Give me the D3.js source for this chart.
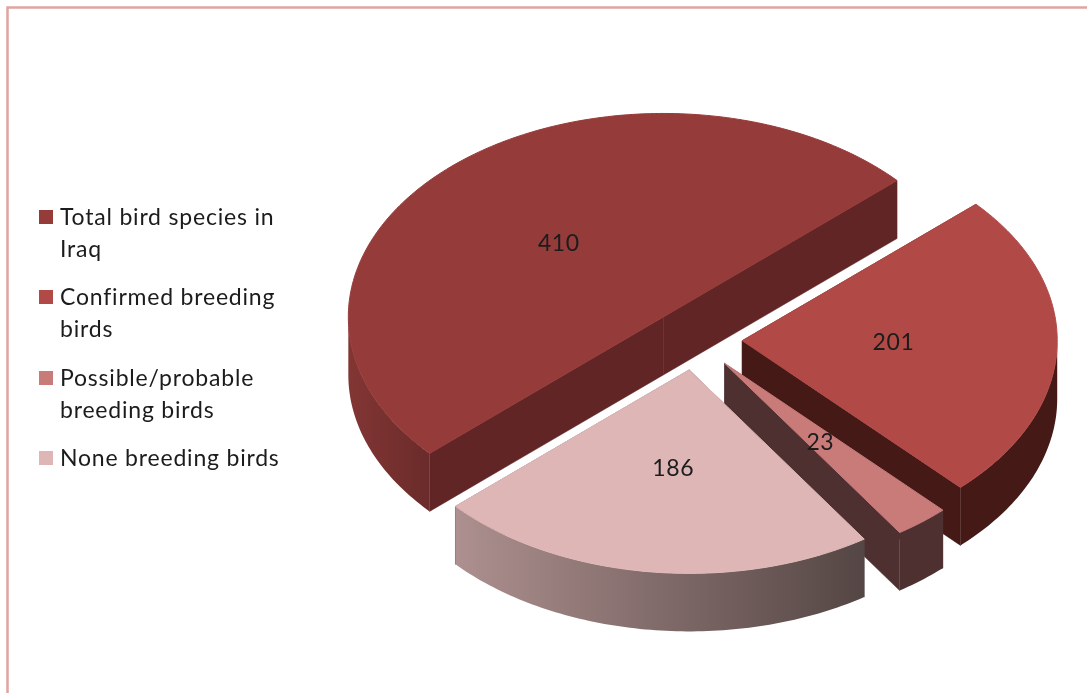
<!DOCTYPE html>
<html>
<head>
<meta charset="utf-8">
<script src="https://cdn.jsdelivr.net/npm/d3@7"></script>
<style>
  html, body { margin: 0; padding: 0; background: #fff; overflow: hidden; }
  svg { display: block; filter: blur(0.4px); }
  text { font-family: Lato, "Open Sans", sans-serif; fill: #1c1c1c; }
</style>
</head>
<body>
<div id="chart-area"></div>
<script>
// Data
var categories = ['Total bird species in Iraq', 'Confirmed breeding birds', 'Possible/probable breeding birds', 'None breeding birds'];
var values = [410, 201, 23, 186];
var legendLines = [['Total bird species in', 'Iraq'], ['Confirmed breeding', 'birds'], ['Possible/probable', 'breeding birds'], ['None breeding birds']];

// Styles
var topColors = ['#953b3a', '#b14946', '#c97b7a', '#dfb6b6'];
var edgeColors = ['#602524', '#451a16', '#4f3031', '#54464a'];
var wallFrom = ['#823634', '#451a16', '#4f3031', '#ad908f'];
var wallTo = ['#6a2b2a', '#451a16', '#4f3031', '#544644'];

var width = 1087;
var height = 693;

// Pie geometry, the tilted circle is squashed into an ellipse
var rx = 315;
var ry = 203.5;
var depth = 58;
var explode = 0.15;
var center = { x: 695, y: 339.6 };
var startAngle = 227.9 * Math.PI / 180;
var labelRadius = 0.49;
var labelNudge = [[-1, 0], [-3, -2], [-1, 1], [3, -1]];

var svg = d3.select('#chart-area')
  .append('svg')
  .attr('width', width)
  .attr('height', height);

var defs = svg.append('defs');

// Unit circle to pixels
var x = d3.scaleLinear().domain([-1, 1]).range([center.x - rx, center.x + rx]);
var y = d3.scaleLinear().domain([-1, 1]).range([center.y - ry, center.y + ry]);

var pie = d3.pie()
  .sort(null)
  .startAngle(startAngle)
  .endAngle(startAngle + 2 * Math.PI);

var slices = pie(values);

// Frame
svg.append('path')
  .attr('d', 'M7.5,' + (height + 5) + 'V7.5H' + (width + 5))
  .attr('fill', 'none')
  .attr('stroke', '#e0a4a1')
  .attr('stroke-width', 2.5);

function point(angle, r, offset, drop) {
  return [
    x(Math.sin(angle) * r + Math.sin(offset) * explode),
    y(-Math.cos(angle) * r - Math.cos(offset) * explode) + drop
  ];
}

function arcPoints(a0, a1, offset, drop) {
  var n = Math.max(2, Math.ceil(Math.abs(a1 - a0) * 60));
  return d3.range(n + 1).map(function(i) {
    return point(a0 + (a1 - a0) * i / n, 1, offset, drop);
  });
}

var line = d3.line().curve(d3.curveLinearClosed);

// Back to front
var g = svg.append('g');

slices.forEach(function(d, i) {
  var mid = (d.startAngle + d.endAngle) / 2;
  var slice = g.append('g').attr('class', 'slice');

  // Cut faces, thin stroke closes the seam where two faces meet
  [d.startAngle, d.endAngle].forEach(function(a) {
    slice.append('path')
      .attr('d', line([
        point(a, 0, mid, 0),
        point(a, 1, mid, 0),
        point(a, 1, mid, depth),
        point(a, 0, mid, depth)
      ]))
      .attr('fill', edgeColors[i])
      .attr('stroke', edgeColors[i])
      .attr('stroke-width', 0.5);
  });

  // Rim, only the near half of the circle shows. Angles run past a full turn.
  [0, 2 * Math.PI].forEach(function(turn) {
    var s0 = Math.max(d.startAngle, Math.PI / 2 + turn);
    var s1 = Math.min(d.endAngle, 1.5 * Math.PI + turn);
    if (s1 <= s0) return;
    var upper = arcPoints(s0, s1, mid, 0);
    var lower = arcPoints(s1, s0, mid, depth);
    var xs = upper.map(function(p) { return p[0]; });
    var id = 'wall-' + i;
    var grad = defs.append('linearGradient')
      .attr('id', id)
      .attr('gradientUnits', 'userSpaceOnUse')
      .attr('x1', d3.min(xs)).attr('x2', d3.max(xs))
      .attr('y1', 0).attr('y2', 0);
    grad.append('stop').attr('offset', 0).attr('stop-color', wallFrom[i]);
    grad.append('stop').attr('offset', 1).attr('stop-color', wallTo[i]);
    slice.append('path')
      .attr('d', line(upper.concat(lower)))
      .attr('fill', 'url(#' + id + ')');
  });

  // Top, stroked in its own colour so the hidden cut faces don't fringe it
  slice.append('path')
    .attr('d', line([point(d.startAngle, 0, mid, 0)].concat(arcPoints(d.startAngle, d.endAngle, mid, 0))))
    .attr('fill', topColors[i])
    .attr('stroke', topColors[i])
    .attr('stroke-width', 1);
});

// Value labels sit halfway out along each slice
slices.forEach(function(d, i) {
  var mid = (d.startAngle + d.endAngle) / 2;
  var p = point(mid, labelRadius, mid, 0);
  svg.append('text')
    .attr('x', p[0] + labelNudge[i][0])
    .attr('y', p[1] + labelNudge[i][1])
    .attr('dy', '0.36em')
    .attr('text-anchor', 'middle')
    .attr('font-size', '23px')
    .attr('letter-spacing', '0.6px')
    .text(values[i]);
});

// Legend
var rowTops = [217, 297, 378, 458];
var lineGap = 32;

categories.forEach(function(c, i) {
  var row = svg.append('g').attr('class', 'legend-row');
  row.append('rect')
    .attr('x', 39)
    .attr('y', rowTops[i] - 7)
    .attr('width', 14)
    .attr('height', 14)
    .attr('fill', topColors[i]);
  legendLines[i].forEach(function(t, j) {
    row.append('text')
      .attr('x', 60)
      .attr('y', rowTops[i] + j * lineGap)
      .attr('dy', '0.36em')
      .attr('font-size', '23px')
      .attr('letter-spacing', '0.8px')
      .text(t);
  });
});
</script>
</body>
</html>
